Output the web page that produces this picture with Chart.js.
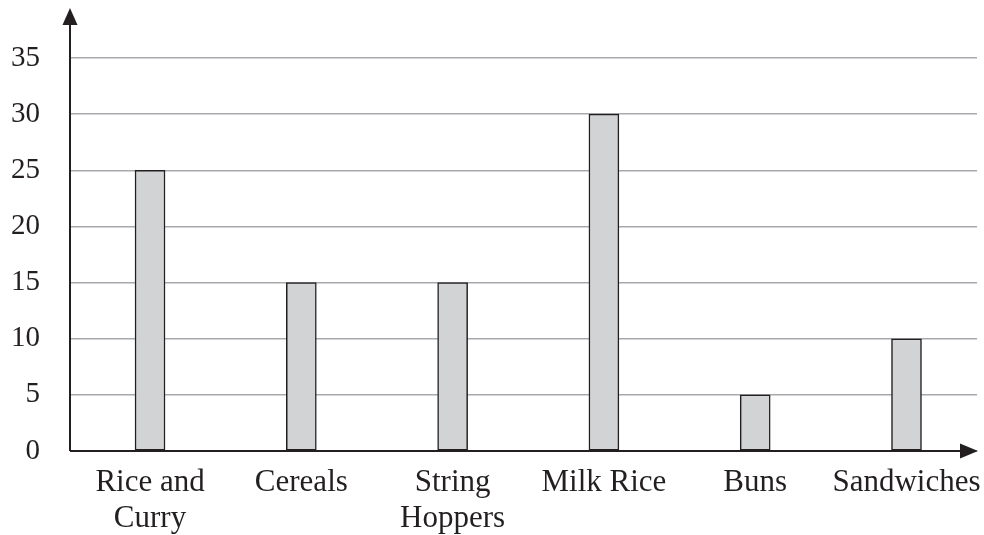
<!DOCTYPE html>
<html>
<head>
<meta charset="utf-8">
<title>Breakfast choices</title>
<script src="https://cdn.jsdelivr.net/npm/chart.js@4.4.1/dist/chart.umd.min.js"></script>
<style>
  html, body { margin: 0; padding: 0; background: #fff; }
  #wrap { width: 984px; height: 535px; position: relative; }
</style>
</head>
<body>
<div id="wrap"><canvas id="chart" width="984" height="535"></canvas></div>
<script>
const categories = [['Rice and', 'Curry'], 'Cereals', ['String', 'Hoppers'], 'Milk Rice', 'Buns', 'Sandwiches'];
const counts = [25, 15, 15, 30, 5, 10];
const yTicks = [0, 5, 10, 15, 20, 25, 30, 35];

const ink = '#231f20';
const serif = "'Liberation Serif', 'Times New Roman', serif";

// axis lines with arrow heads, drawn past the plot area
const arrowAxes = {
  id: 'arrowAxes',
  afterDatasetsDraw(chart) {
    const { ctx } = chart;
    const x0 = chart.scales.x.left;
    const y0 = chart.scales.y.getPixelForValue(0);
    ctx.save();
    ctx.strokeStyle = ink;
    ctx.fillStyle = ink;
    ctx.lineWidth = 2;
    ctx.beginPath();
    ctx.moveTo(x0, y0);
    ctx.lineTo(x0, 24);
    ctx.moveTo(x0, y0);
    ctx.lineTo(961, y0);
    ctx.stroke();
    ctx.beginPath();
    ctx.moveTo(x0, 8);
    ctx.lineTo(x0 - 7.5, 25);
    ctx.lineTo(x0 + 7.5, 25);
    ctx.closePath();
    ctx.fill();
    ctx.beginPath();
    ctx.moveTo(978, y0);
    ctx.lineTo(960, y0 - 7.5);
    ctx.lineTo(960, y0 + 7.5);
    ctx.closePath();
    ctx.fill();
    ctx.restore();
  }
};

new Chart(document.getElementById('chart'), {
  type: 'bar',
  data: {
    datasets: [{
      data: counts.map((v, i) => ({ x: i, y: v })),
      backgroundColor: '#d1d3d4',
      borderColor: ink,
      borderWidth: 1.5,
      borderSkipped: false,
      barThickness: 30
    }]
  },
  options: {
    responsive: false,
    animation: false,
    layout: { padding: { top: 58, right: 7, left: 0, bottom: 0 } },
    plugins: { legend: { display: false }, tooltip: { enabled: false } },
    scales: {
      x: {
        type: 'linear',
        min: -0.529,
        max: 5.466,
        offset: false,
        grid: { display: false, drawTicks: false },
        border: { display: false },
        afterBuildTicks(scale) {
          scale.ticks = categories.map((_, i) => ({ value: i }));
        },
        afterFit(scale) {
          scale.height = 84;
          scale.paddingLeft = 0;
          scale.paddingRight = 0;
        },
        ticks: {
          autoSkip: false,
          maxRotation: 0,
          padding: 14,
          color: ink,
          font: { family: serif, size: 31, lineHeight: 1.16 },
          callback: (v) => categories[v]
        }
      },
      y: {
        min: 0,
        max: 35,
        afterBuildTicks(scale) {
          scale.ticks = yTicks.map((v) => ({ value: v }));
        },
        afterFit(scale) {
          scale.width = 70;
          scale.paddingTop = 0;
          scale.paddingBottom = 0;
        },
        grid: { color: '#a7a9ac', lineWidth: 1.5, drawTicks: false },
        border: { display: false },
        ticks: {
          padding: 30,
          color: ink,
          font: { family: serif, size: 29 }
        }
      }
    }
  },
  plugins: [arrowAxes]
});
</script>
</body>
</html>
